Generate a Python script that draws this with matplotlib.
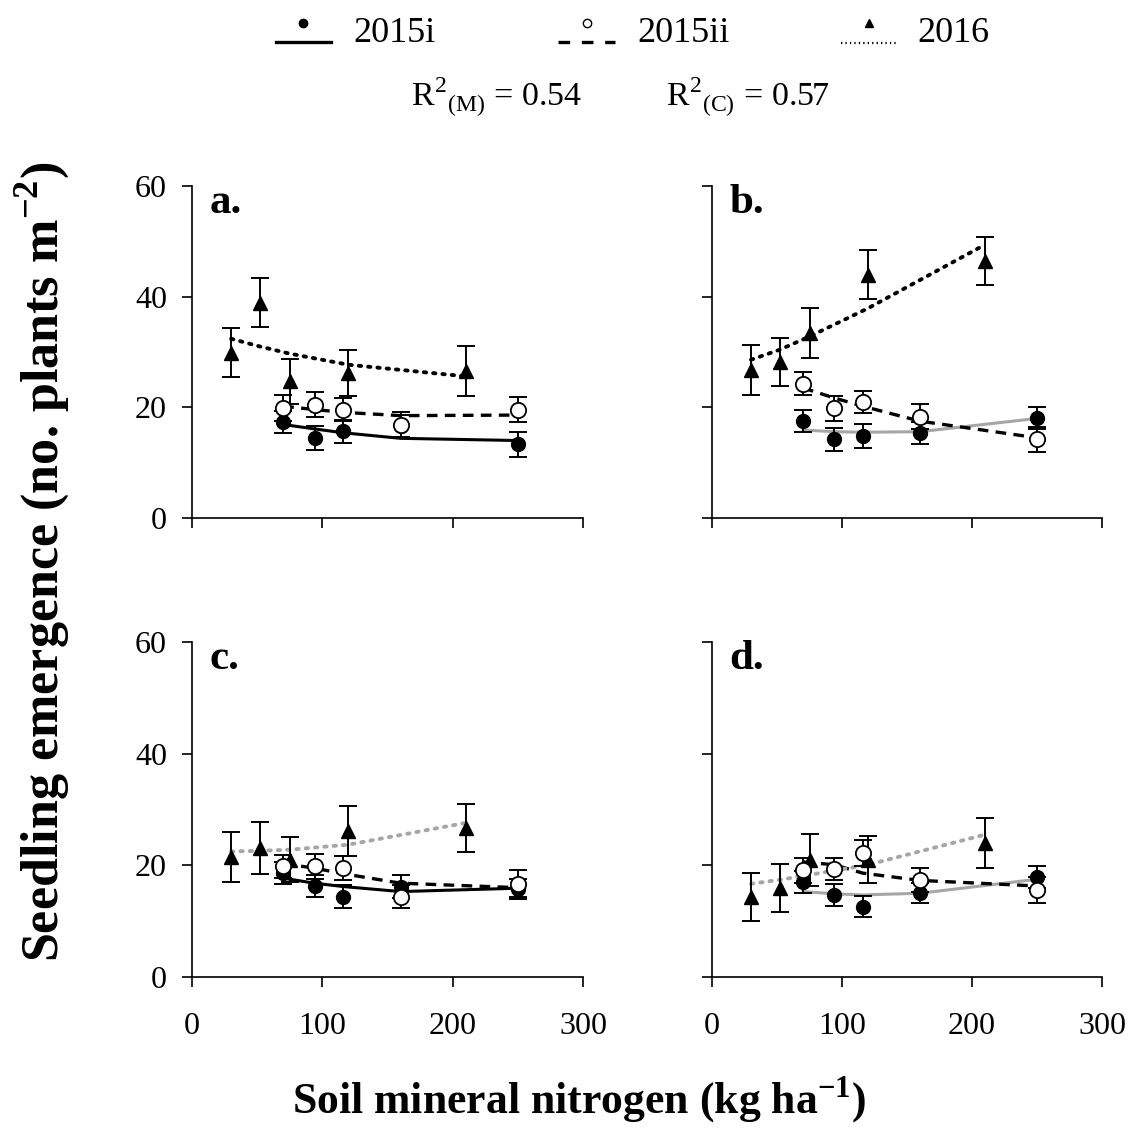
import matplotlib
matplotlib.use('Agg')
from matplotlib import pyplot as plt
from matplotlib.lines import Line2D

plt.rcParams['font.family'] = ['Liberation Serif', 'DejaVu Serif']
plt.rcParams['mathtext.fontset'] = 'custom'
plt.rcParams['mathtext.rm'] = 'Liberation Serif'
plt.rcParams['mathtext.bf'] = 'Liberation Serif:bold'

# soil mineral N (kg/ha) per year
X_CIRC = [70, 94, 116, 160, 250]
X_TRI = [30, 52, 75, 120, 210]

# panel a
A_FILL_Y = [17.4, 14.5, 15.7, 16.6, 13.3]
A_FILL_E = [2.0, 2.2, 2.1, 2.0, 2.3]
A_OPEN_Y = [19.9, 20.5, 19.6, 16.8, 19.6]
A_OPEN_E = [2.4, 2.3, 2.1, 2.4, 2.3]
A_TRI_Y = [29.9, 38.9, 24.7, 26.2, 26.5]
A_TRI_E = [4.4, 4.4, 4.1, 4.1, 4.5]
A_FIT_I = [16.9, 16.1, 15.4, 14.4, 14.0]
A_FIT_II = [20.2, 19.6, 19.1, 18.5, 18.6]
A_FIT_16 = [32.4, 31.0, 29.7, 27.7, 25.6]

# panel b
B_FILL_Y = [17.5, 14.2, 14.8, 15.4, 18.1]
B_FILL_E = [2.0, 2.1, 2.1, 2.0, 2.0]
B_OPEN_Y = [24.3, 19.8, 21.0, 18.3, 14.2]
B_OPEN_E = [2.1, 2.2, 2.0, 2.3, 2.3]
B_TRI_Y = [26.8, 28.2, 33.5, 44.0, 46.4]
B_TRI_E = [4.5, 4.3, 4.5, 4.5, 4.3]
B_FIT_I = [15.9, 15.6, 15.5, 15.6, 18.0]
B_FIT_II = [23.5, 21.7, 20.2, 17.5, 14.5]
B_FIT_16 = [28.6, 30.4, 32.8, 37.9, 49.4]

# panel c
C_FILL_Y = [18.6, 16.3, 14.4, 16.2, 15.7]
C_FILL_E = [2.0, 2.0, 2.1, 2.0, 1.8]
C_OPEN_Y = [19.8, 19.8, 19.5, 14.4, 16.7]
C_OPEN_E = [2.0, 2.3, 2.2, 2.1, 2.4]
C_TRI_Y = [21.5, 23.1, 21.0, 26.1, 26.7]
C_TRI_E = [4.4, 4.6, 4.0, 4.5, 4.3]
C_FIT_I = [17.7, 16.8, 16.2, 15.3, 15.9]
C_FIT_II = [20.3, 19.5, 18.5, 16.8, 16.0]
C_FIT_16 = [22.5, 22.6, 22.8, 23.7, 27.6]

# panel d
D_FILL_Y = [17.0, 14.7, 12.6, 15.0, 17.9]
D_FILL_E = [2.0, 1.9, 1.9, 1.8, 1.9]
D_OPEN_Y = [19.1, 19.3, 22.2, 17.4, 15.6]
D_OPEN_E = [2.2, 2.0, 2.3, 2.1, 2.3]
D_TRI_Y = [14.4, 15.9, 21.0, 21.0, 24.0]
D_TRI_E = [4.3, 4.3, 4.7, 4.2, 4.5]
D_FIT_I = [15.3, 14.9, 14.7, 15.0, 17.5]
D_FIT_II = [20.6, 20.1, 18.6, 17.3, 16.3]
D_FIT_16 = [16.7, 17.4, 18.3, 20.1, 25.5]

GREY = '#a6a6a6'
DOT = (0, (0.6, 1.8))
DASH = (0, (3.2, 2.2))

W, H = 1129, 1145
fig = plt.figure(figsize=(W / 100, H / 100), dpi=100)


def pos(left, top, right, bottom):
    return [left / W, 1 - bottom / H, (right - left) / W, (bottom - top) / H]


panels = [
    ('a.', pos(192, 186, 583, 518), A_FILL_Y, A_FILL_E, A_OPEN_Y, A_OPEN_E, A_TRI_Y, A_TRI_E,
     A_FIT_I, A_FIT_II, A_FIT_16, 'black', 'black', True, False),
    ('b.', pos(712, 186, 1102, 518), B_FILL_Y, B_FILL_E, B_OPEN_Y, B_OPEN_E, B_TRI_Y, B_TRI_E,
     B_FIT_I, B_FIT_II, B_FIT_16, GREY, 'black', False, False),
    ('c.', pos(192, 642, 583, 977), C_FILL_Y, C_FILL_E, C_OPEN_Y, C_OPEN_E, C_TRI_Y, C_TRI_E,
     C_FIT_I, C_FIT_II, C_FIT_16, 'black', GREY, True, True),
    ('d.', pos(712, 642, 1102, 977), D_FILL_Y, D_FILL_E, D_OPEN_Y, D_OPEN_E, D_TRI_Y, D_TRI_E,
     D_FIT_I, D_FIT_II, D_FIT_16, GREY, GREY, False, True),
]

eb = dict(fmt='none', ecolor='black', elinewidth=1.4, capsize=6.5, capthick=1.4, zorder=3)

for (lab, p, fy, fe, oy, oe, ty, te, fit_i, fit_ii, fit_16,
     col_i, col_16, ylab, xlab) in panels:
    ax = fig.add_axes(p)
    ax.plot(X_CIRC, fit_i, color=col_i, lw=2.2, zorder=2)
    ax.plot(X_CIRC, fit_ii, color='black', lw=2.4, linestyle=DASH, zorder=2)
    ax.plot(X_TRI, fit_16, color=col_16, lw=2.8, linestyle=DOT,
            dash_capstyle='round', zorder=2)
    ax.errorbar(X_TRI, ty, yerr=te, **eb)
    ax.errorbar(X_CIRC, fy, yerr=fe, **eb)
    ax.errorbar(X_CIRC, oy, yerr=oe, **eb)
    ax.plot(X_TRI, ty, '^', color='black', ms=10, zorder=4)
    ax.plot(X_CIRC, fy, 'o', color='black', ms=10, zorder=4)
    ax.plot(X_CIRC, oy, 'o', mfc='white', mec='black', mew=1.3, ms=11, zorder=5)

    ax.set_xlim(0, 300)
    ax.set_ylim(0, 60)
    ax.set_xticks([0, 100, 200, 300])
    ax.set_yticks([0, 20, 40, 60])
    for s in ('top', 'right'):
        ax.spines[s].set_visible(False)
    for s in ('left', 'bottom'):
        ax.spines[s].set_linewidth(1.2)
    ax.tick_params(direction='out', length=7, width=1.2, labelsize=23)
    ax.tick_params(axis='y', pad=11)
    ax.tick_params(axis='x', pad=18)
    if not ylab:
        ax.set_yticklabels([])
    if not xlab:
        ax.set_xticklabels([])
    ax.text(0.045, 1.005, lab, transform=ax.transAxes, fontsize=31,
            fontweight='bold', va='top', ha='left')

# top legend and R2 text, in pixel coordinates
lg = fig.add_axes([0, 0, 1, 1])
lg.set_xlim(0, W)
lg.set_ylim(H, 0)
lg.axis('off')
lg.add_line(Line2D([276, 331], [42, 42], color='black', lw=2.4))
lg.plot([303], [23], 'o', color='black', ms=6)
lg.text(353, 33, '2015i', fontsize=26, va='center', ha='left')
lg.add_line(Line2D([558, 615], [42, 42], color='black', lw=2.4, linestyle=(0, (3.5, 3.5))))
lg.plot([587], [23], 'o', mfc='white', mec='black', mew=1.0, ms=6)
lg.text(637, 33, '2015ii', fontsize=26, va='center', ha='left')
lg.add_line(Line2D([841, 896], [43, 43], color='black', lw=1.6, linestyle=(0, (0.6, 1.4))))
lg.plot([869], [23], '^', color='black', ms=6)
lg.text(917, 33, '2016', fontsize=26, va='center', ha='left')
lg.text(411, 97, r'R$^{2}{}_{\rm (M)}$ = 0.54', fontsize=24.5, va='center', ha='left')
lg.text(666, 97, r'R$^{2}{}_{\rm (C)}$ = 0.57', fontsize=24.5, va='center', ha='left')

fig.text(42 / W, 1 - 562 / H, r'Seedling emergence (no. plants m$^{\mathbf{-2}}$)',
         rotation=90, fontsize=37.5, fontweight='bold', ha='center', va='center')
fig.text(579 / W, 1 - 1100 / H, r'Soil mineral nitrogen (kg ha$^{\mathbf{-1}}$)',
         fontsize=31.5, fontweight='bold', ha='center', va='center')

fig.savefig('out.png', dpi=100)
